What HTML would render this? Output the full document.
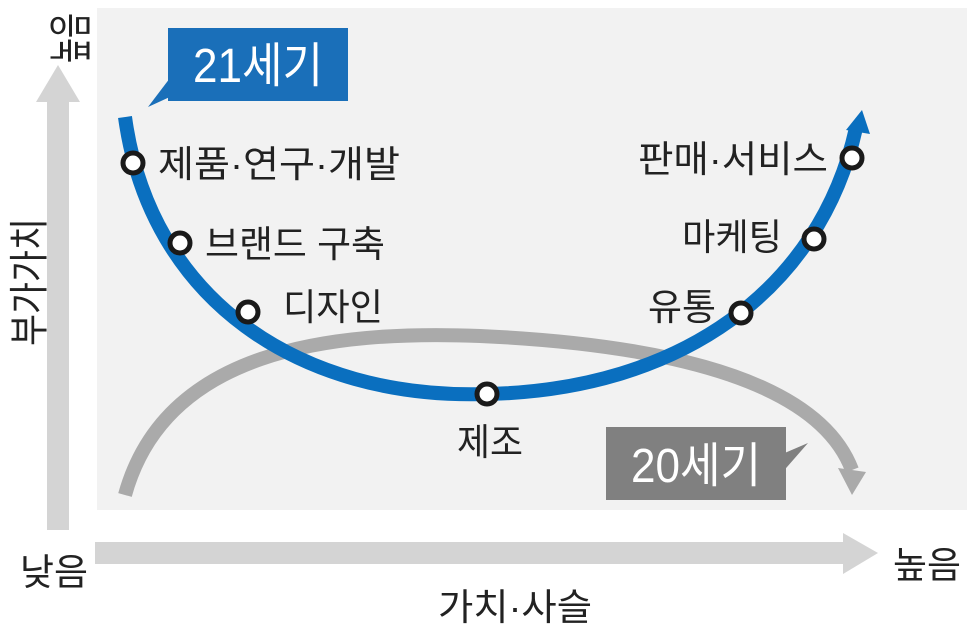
<!DOCTYPE html>
<html><head><meta charset="utf-8"><style>
body{margin:0;width:977px;height:632px;background:#fff;overflow:hidden}
svg text{font-family:"Liberation Sans","Noto Sans CJK KR",sans-serif}
</style></head><body>
<svg width="977" height="632" viewBox="0 0 977 632">
<rect x="97" y="8" width="870" height="502" fill="#f2f2f2"/>
<!-- axes -->
<rect x="47" y="100" width="22" height="430" fill="#d4d4d4"/>
<polygon points="36,102 80,102 58,65" fill="#d4d4d4"/>
<rect x="95" y="542" width="750" height="22" fill="#d4d4d4"/>
<polygon points="843,533 843,574 878,553" fill="#d4d4d4"/>
<!-- gray curve -->
<path d="M125,495 C165,350 330,330 480,336 C680,345 820,385 852,470" fill="none" stroke="#aaaaaa" stroke-width="14"/>
<polygon points="838,468 866,472 852,495" fill="#aaaaaa"/>
<!-- blue curve -->
<path d="M125,117 C150,300 300,400 487,394 C680,390 820,290 856,128" fill="none" stroke="#0a6fbf" stroke-width="14"/>
<polygon points="846,130 870,134 862,110" fill="#0a6fbf"/>
<!-- nodes -->
<g fill="#fff" stroke="#1a1a1a" stroke-width="5">
<circle cx="133" cy="163" r="10"/><circle cx="180" cy="243" r="10"/><circle cx="248" cy="312" r="10"/>
<circle cx="487" cy="394" r="10"/><circle cx="741" cy="313" r="10"/><circle cx="814" cy="239" r="10"/><circle cx="852" cy="158" r="10"/>
</g>
<!-- labels -->
<g font-size="37" fill="#222">
<text x="158" y="177" textLength="242" lengthAdjust="spacingAndGlyphs">제품·연구·개발</text>
<text x="205" y="257" textLength="180" lengthAdjust="spacingAndGlyphs">브랜드 구축</text>
<text x="283" y="320" textLength="100" lengthAdjust="spacingAndGlyphs">디자인</text>
<text x="457" y="455" textLength="66" lengthAdjust="spacingAndGlyphs">제조</text>
<text x="648" y="320" textLength="68" lengthAdjust="spacingAndGlyphs">유통</text>
<text x="682" y="250" textLength="100" lengthAdjust="spacingAndGlyphs">마케팅</text>
<text x="638" y="172" textLength="190" lengthAdjust="spacingAndGlyphs">판매·서비스</text>
<text x="438" y="620" textLength="154" lengthAdjust="spacingAndGlyphs">가치·사슬</text>
<text x="893" y="578" textLength="68" lengthAdjust="spacingAndGlyphs">높음</text>
<text x="20" y="585" textLength="68" lengthAdjust="spacingAndGlyphs">낮음</text>
<text transform="translate(86,38) rotate(-90)" text-anchor="middle" font-size="44" textLength="50" lengthAdjust="spacingAndGlyphs">높음</text>
<text transform="translate(43,282) rotate(-90)" text-anchor="middle" font-size="40" textLength="128" lengthAdjust="spacingAndGlyphs">부가가치</text>
</g>
<!-- 21세기 -->
<polygon points="170,78 148,107 185,90" fill="#1a6fb9"/>
<rect x="168" y="28" width="180" height="73" fill="#1a6fb9"/>
<text x="258" y="82" text-anchor="middle" font-size="48" fill="#fff" textLength="130" lengthAdjust="spacingAndGlyphs">21세기</text>
<!-- 20세기 -->
<polygon points="780,455 808,443 780,475" fill="#808080"/>
<rect x="606" y="427" width="180" height="73" fill="#808080"/>
<text x="696" y="482" text-anchor="middle" font-size="48" fill="#fff" textLength="130" lengthAdjust="spacingAndGlyphs">20세기</text>
</svg>
</body></html>
